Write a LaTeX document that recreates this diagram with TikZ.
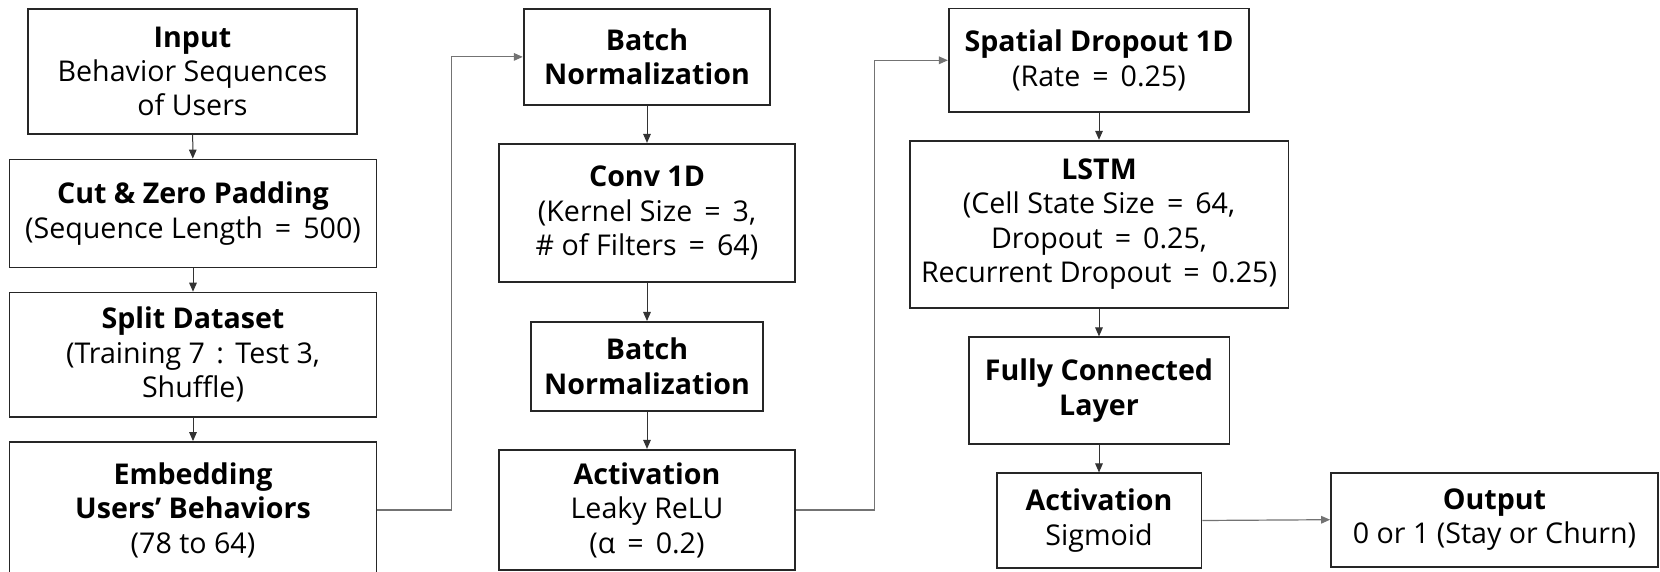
\documentclass[tikz,border=0pt]{standalone}
\usepackage{fontspec}
\setmainfont{Open Sans}
\usetikzlibrary{arrows.meta}
\newcommand{\eqs}{\hspace{0.42em}=\hspace{0.42em}}
\tikzset{
  blk/.style={draw=black!85, line width=0.9pt, align=center, inner sep=0pt,
    font=\fontsize{14.3}{17.2}\selectfont},
  link/.style={draw=black!80, line width=0.5pt, -{Triangle[length=4.5pt,width=3.8pt]}},
  longlink/.style={draw=black!55, line width=0.6pt, -{Triangle[length=4.5pt,width=3.8pt]}},
}
\begin{document}
\begin{tikzpicture}[x=0.5pt,y=-0.5pt]
\useasboundingbox (0,0) rectangle (1660,572);
% column 1
\node[blk, minimum width=164.5pt, minimum height=62.5pt] (inp) at (192.5,71.5)
  {\textbf{Input}\\Behavior Sequences\\of Users};
\node[blk, minimum width=183.5pt, minimum height=54pt] (cut) at (193,213.5)
  {\textbf{Cut \& Zero Padding}\\(Sequence Length\eqs 500)};
\node[blk, minimum width=183.5pt, minimum height=62pt] (split) at (193,354.6)
  {\textbf{Split Dataset}\\(Training 7\hspace{0.4em}:\hspace{0.4em}Test 3,\\Shuffle)};
\node[blk, minimum width=183.5pt, minimum height=68pt] (emb) at (193,510)
  {\textbf{Embedding}\\\textbf{Users’ Behaviors}\\(78 to 64)};
% column 2
\node[blk, minimum width=123.3pt, minimum height=48.2pt] (bn1) at (647,56.9)
  {\textbf{Batch}\\\textbf{Normalization}};
\node[blk, minimum width=148pt, minimum height=69.2pt] (conv) at (647,213)
  {\textbf{Conv 1D}\\(Kernel Size\eqs 3,\\\# of Filters\eqs 64)};
\node[blk, minimum width=116pt, minimum height=44.4pt] (bn2) at (647,366.3)
  {\textbf{Batch}\\\textbf{Normalization}};
\node[blk, minimum width=148pt, minimum height=60.2pt] (act1) at (647,510)
  {\textbf{Activation}\\Leaky ReLU\\(α\eqs 0.2)};
% column 3
\node[blk, minimum width=150.2pt, minimum height=51.7pt] (sdrop) at (1099,60.3)
  {\textbf{Spatial Dropout 1D}\\(Rate\eqs 0.25)};
\node[blk, minimum width=189.4pt, minimum height=83.5pt] (lstm) at (1099,224.2)
  {\textbf{LSTM}\\(Cell State Size\eqs 64,\\Dropout\eqs 0.25,\\Recurrent Dropout\eqs 0.25)};
\node[blk, minimum width=130.4pt, minimum height=53.4pt] (fc) at (1099,390.7)
  {\textbf{Fully Connected}\\\textbf{Layer}};
\node[blk, minimum width=102.4pt, minimum height=47.2pt] (act2) at (1099,520.5)
  {\textbf{Activation}\\Sigmoid};
\node[blk, minimum width=163.5pt, minimum height=47pt] (out) at (1494.5,519.7)
  {\textbf{Output}\\0 or 1 (Stay or Churn)};
% connectors
\draw[link] (inp) -- (cut);
\draw[link] (cut) -- (split);
\draw[link] (split) -- (emb);
\draw[longlink] (emb.east) -- ++(74.3,0) coordinate (e1) |- (bn1.west);
\draw[link] (bn1) -- (conv);
\draw[link] (conv) -- (bn2);
\draw[link] (bn2) -- (act1);
\draw[longlink] (act1.east) -- ++(78.3,0) coordinate (e2) |- (sdrop.west);
\draw[link] (sdrop) -- (lstm);
\draw[link] (lstm) -- (fc);
\draw[link] (fc) -- (act2);
\draw[longlink] (act2.east) -- (out.west);
\end{tikzpicture}
\end{document}
